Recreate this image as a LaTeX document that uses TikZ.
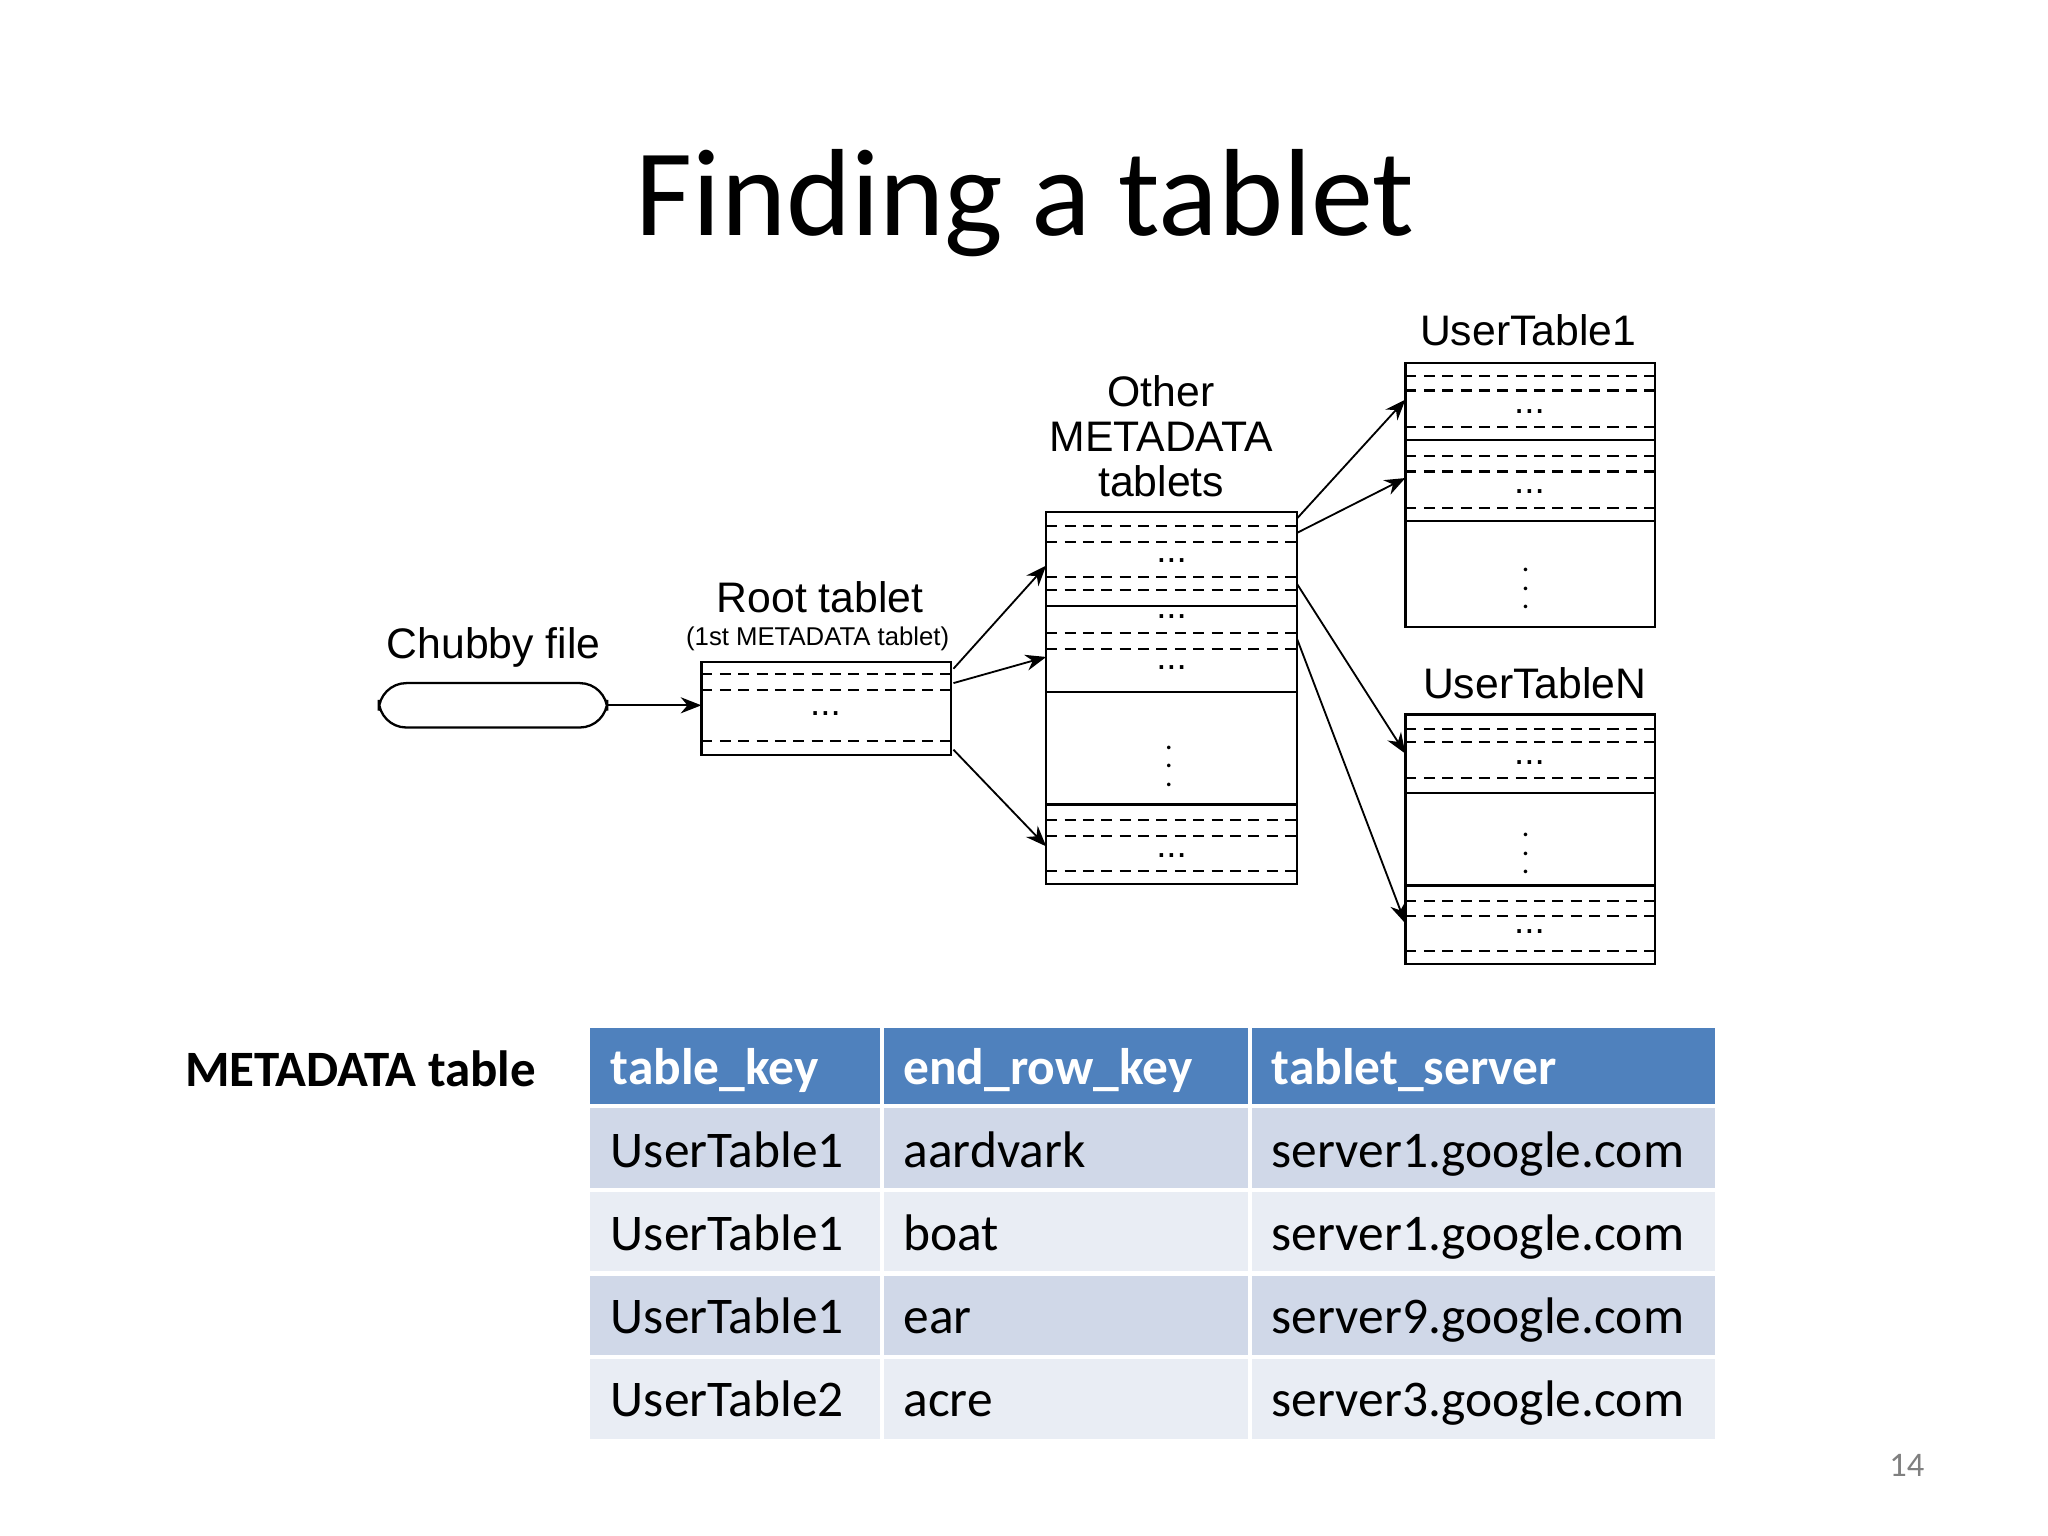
\documentclass[tikz,border=0pt]{standalone}
\usepackage{fontspec}
\setmainfont{Carlito}
\newfontfamily\diagfont{Liberation Sans}
\usetikzlibrary{arrows.meta}
\definecolor{hdrblue}{HTML}{4F81BD}
\definecolor{rowdark}{HTML}{D0D8E8}
\definecolor{rowlight}{HTML}{E9EDF4}
\tikzset{
  box/.style={draw=black, line width=0.5pt},
  dline/.style={draw=black, line width=0.45pt, dash pattern=on 2.4pt off 1.6pt},
  ptr/.style={draw=black, line width=0.4pt, -{Stealth[length=4.5pt,width=3.5pt]}},
  lbl/.style={font=\diagfont\fontsize{9.3}{10}\selectfont, inner sep=0pt},
  dots/.style={font=\diagfont\fontsize{8}{8}\selectfont, inner sep=0pt},
  vdot/.style={font=\fontsize{6.5}{6.5}\selectfont, inner sep=0pt},
  cell/.style={anchor=base west, inner sep=0pt, font=\fontsize{11.2}{13}\selectfont},
}
\begin{document}
\begin{tikzpicture}[x=0.01cm, y=-0.01cm]
	\useasboundingbox (0,0) rectangle (1568,1176);
	\node[font=\fontsize{27}{30}\selectfont, anchor=base] (title) at (785,180) {Finding a tablet};
	% chubby file
	\draw[box, rounded corners=6pt] (290,523) rectangle (465,557);
	\node[lbl] (chubby) at (378,496) {Chubby file};
	\coordinate (chubbyout) at (465,540);
	% root tablet
	\draw[box] (537,507) rectangle (728,578);
	\draw[dline] (537,516) -- (728,516);
	\draw[dline] (537,528) -- (728,528);
	\draw[dline] (537,567) -- (728,567);
	\node[dots] (rootdots) at (632,546) {...};
	\node[lbl] (root) at (628,457) {Root tablet};
	\node[lbl, font=\diagfont\fontsize{5.6}{6}\selectfont] (rootsub) at (626,489) {(1st METADATA tablet)};
	\coordinate (rootin) at (537,540);
	% other metadata tablets
	\draw[box] (801,392) rectangle (993,677);
	\foreach \y in {403,415,442,452,485,497,628,640,667}
		\draw[dline] (801,\y) -- (993,\y);
	\foreach \y in {464,530,616}
		\draw[box] (801,\y) -- (993,\y);
	\foreach \y in {429,472,511,655}
		\node[dots] at (897,\y) {...};
	\node[vdot] (metavdots) at (895,576) {$\vdots$};
	\node[lbl, align=center, font=\diagfont\fontsize{9.3}{9.9}\selectfont] (meta) at (889,334) {Other\\METADATA\\tablets};
	% user table 1
	\draw[box] (1076,278) rectangle (1267,480);
	\foreach \y in {288,299,327,349,361,389}
		\draw[dline] (1076,\y) -- (1267,\y);
	\foreach \y in {337,399}
		\draw[box] (1076,\y) -- (1267,\y);
	\foreach \y in {315,376}
		\node[dots] at (1171,\y) {...};
	\node[vdot] (uonevdots) at (1168,440) {$\vdots$};
	\node[lbl] (uone) at (1170,253) {UserTable1};
	% user table N
	\draw[box] (1076,547) rectangle (1267,738);
	\foreach \y in {558,568,596,690,701,728}
		\draw[dline] (1076,\y) -- (1267,\y);
	\foreach \y in {607,678}
		\draw[box] (1076,\y) -- (1267,\y);
	\foreach \y in {584,713}
		\node[dots] at (1171,\y) {...};
	\node[vdot] (unvdots) at (1168,643) {$\vdots$};
	\node[lbl] (un) at (1175,523) {UserTableN};
	% pointer ends
	\coordinate (ra) at (730,512);
	\coordinate (rb) at (730,523);
	\coordinate (rc) at (730,574);
	\coordinate (ma) at (801,433);
	\coordinate (mb) at (801,503);
	\coordinate (mc) at (801,648);
	\coordinate (oa) at (993,397);
	\coordinate (ob) at (993,408);
	\coordinate (oc) at (993,447);
	\coordinate (od) at (993,489);
	\coordinate (ua) at (1076,306);
	\coordinate (ub) at (1076,366);
	\coordinate (uc) at (1076,577);
	\coordinate (ud) at (1076,707);
	\draw[ptr] (chubbyout) -- (rootin);
	\draw[ptr] (ra) -- (ma);
	\draw[ptr] (rb) -- (mb);
	\draw[ptr] (rc) -- (mc);
	\draw[ptr] (oa) -- (ua);
	\draw[ptr] (ob) -- (ub);
	\draw[ptr] (oc) -- (uc);
	\draw[ptr] (od) -- (ud);
	% metadata table
	\node[font=\bfseries\fontsize{11.1}{13}\selectfont] (mtlabel) at (276,818) {METADATA table};
	\fill[hdrblue] (452,787) rectangle (1313,847);
	\fill[rowdark] (452,847) rectangle (1313,911);
	\fill[rowlight] (452,911) rectangle (1313,975);
	\fill[rowdark] (452,975) rectangle (1313,1039);
	\fill[rowlight] (452,1039) rectangle (1313,1102);
	\foreach \y in {847,911,975,1039}
		\draw[white, line width=0.9pt] (452,\y) -- (1313,\y);
	\foreach \x in {675,957}
		\draw[white, line width=0.9pt] (\x,787) -- (\x,1102);
	\node[cell, text=white, font=\bfseries\fontsize{11.2}{13}\selectfont] (hkey) at (467,830) {table\_key};
	\node[cell, text=white, font=\bfseries\fontsize{11.2}{13}\selectfont] (hrow) at (691,830) {end\_row\_key};
	\node[cell, text=white, font=\bfseries\fontsize{11.2}{13}\selectfont] (hsrv) at (973,830) {tablet\_server};
	\foreach \t/\r/\s [count=\i] in {UserTable1/aardvark/server1, UserTable1/boat/server1, UserTable1/ear/server9, UserTable2/acre/server3} {
		\node[cell] (key\i) at (467,830+63.7*\i) {\t};
		\node[cell] (row\i) at (691,830+63.7*\i) {\r};
		\node[cell] (srv\i) at (973,830+63.7*\i) {\s.google.com};
	}
	\node[text=gray, font=\fontsize{7.5}{8}\selectfont] (page) at (1460,1122) {14};
\end{tikzpicture}
\end{document}
